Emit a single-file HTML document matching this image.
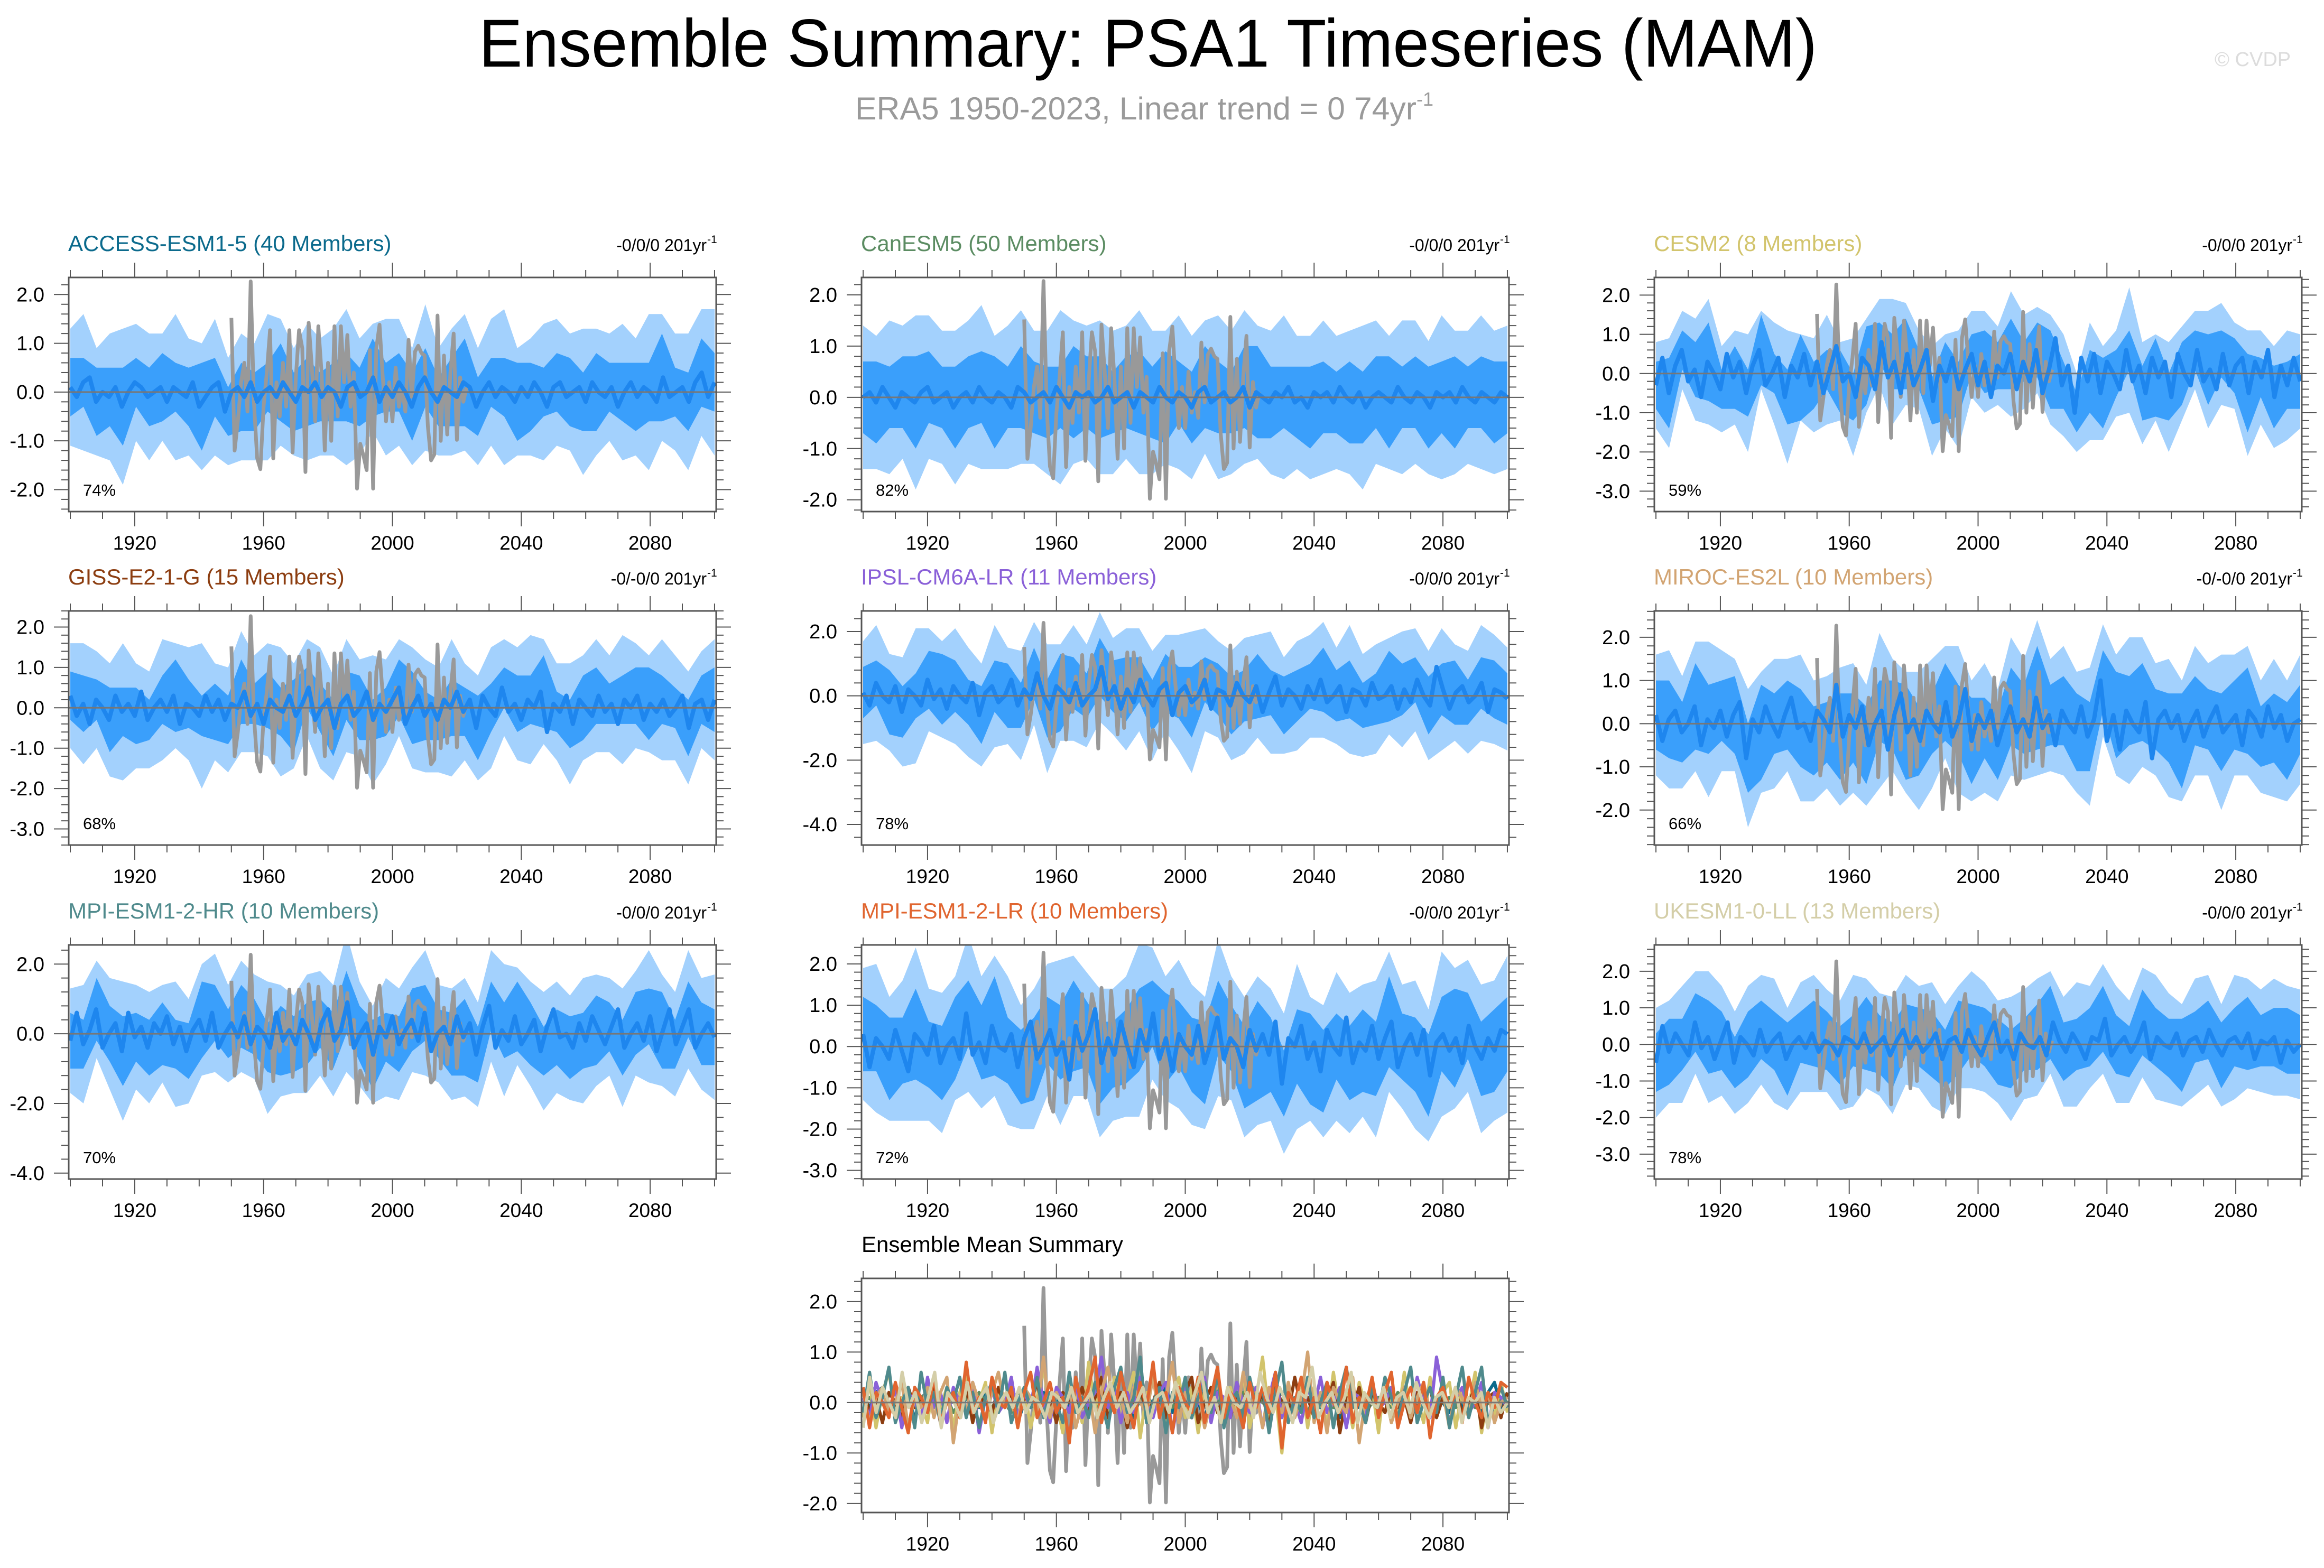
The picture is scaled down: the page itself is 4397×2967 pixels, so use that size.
<!DOCTYPE html>
<html><head><meta charset="utf-8">
<style>
html,body{margin:0;padding:0;background:#fff;}
svg{display:block;}
text{font-family:"Liberation Sans",sans-serif;}
</style></head>
<body>
<svg id="chart" xmlns="http://www.w3.org/2000/svg" width="4397" height="2967" viewBox="0 0 4397 2967">
<rect x="0" y="0" width="4397" height="2967" fill="#fff"/>
<text x="906" y="126" font-size="128" textLength="2532" lengthAdjust="spacingAndGlyphs" fill="#000">Ensemble Summary: PSA1 Timeseries (MAM)</text>
<text x="1618" y="226" font-size="60" fill="#9a9a9a"><tspan textLength="1062" lengthAdjust="spacingAndGlyphs">ERA5 1950-2023, Linear trend = 0 74yr</tspan><tspan font-size="36" dy="-26">-1</tspan></text>
<text x="4190" y="125" font-size="38" fill="#dcdcdc">© CVDP</text>
<g id="panels"></g>
</svg>
<script>
const years0 = 1900, years1 = 2100;
const era5Start = 1950;
const era5 = [1.52,-1.2,-0.6,0.2,0.6,-0.4,2.27,-0.2,-1.35,-1.58,-0.3,0.4,1.27,-1.36,0.2,-0.5,0.6,-0.3,1.27,-1.24,0.3,1.27,0.9,-1.64,1.42,0.5,-0.6,1.35,0.4,-1.2,0.6,-1.0,1.35,-0.5,1.35,0.2,1.17,-0.3,0.4,-1.98,-1.06,-1.3,-1.6,0.86,-1.98,0.9,1.38,0.3,-0.6,0.2,-0.6,0.5,-0.3,0.1,-0.4,1.07,-0.1,0.83,0.95,0.8,0.75,-0.7,-1.4,-1.28,1.57,-1.0,0.75,-0.87,0.4,1.2,-0.98,0.3,-0.2,0.1];

const accessMean = [0.1,-0.1,0.2,0.3,-0.2,0.0,-0.1,0.1,-0.3,0.0,0.2,0.1,-0.1,0.0,0.1,-0.2,0.1,0.0,-0.1,0.2,-0.3,-0.1,0.1,0.2,-0.4,0.0,0.1,-0.1,0.2,-0.2,0.0,0.1,-0.1,0.2,0.0,-0.2,0.1,0.0,0.2,-0.1,0.1,0.0,-0.3,0.1,0.2,-0.1,0.0,0.3,-0.2,0.1,-0.1,0.2,0.0,-0.3,0.1,0.3,0.0,-0.2,0.1,0.0,-0.1,0.2,0.1,-0.3,0.0,0.2,-0.1,0.1,0.0,-0.2,0.1,-0.1,0.2,0.0,-0.3,0.1,0.2,-0.1,0.0,0.1,-0.2,0.2,0.0,-0.1,0.1,-0.3,0.0,0.2,-0.1,0.1,0.0,-0.2,0.3,-0.1,0.0,0.1,-0.2,0.2,0.4,-0.1,0.2];
const accessW1 = [.6,.5,.7,.6,.8,.5,.6,.7,.5,.6,.9,.6,.5,.7,.6,.5,.8,.6,.7,.5,.6,.7,.6,.8,.5,.6,.7,.6,.5,.7,.9,.6,.5,.6,.8,.7,.5,.6,.7,.6,.8,.5,.6,.7,.6,.9,.5,.6,.7,.6];
const accessW2 = [1.2,1.4,1.1,1.3,1.6,1.2,1.3,1.1,1.5,1.2,1.3,1.4,1.1,1.3,1.2,1.5,1.3,1.1,1.4,1.2,1.3,1.6,1.2,1.1,1.4,1.3,1.2,1.5,1.1,1.3,1.4,1.2,1.3,1.6,1.1,1.2,1.4,1.3,1.2,1.5,1.3,1.1,1.4,1.2,1.6,1.3,1.2,1.4,1.3,1.5];

const canMean = [0.0,0.1,-0.1,0.2,0.0,-0.2,0.1,0.0,-0.1,0.1,0.2,-0.1,0.0,0.1,-0.2,0.0,0.1,-0.1,0.2,0.0,-0.1,0.1,0.0,-0.2,0.2,0.1,-0.1,0.0,0.1,-0.1,0.2,0.0,-0.2,0.1,0.0,0.1,-0.1,0.0,0.2,-0.1,0.0,0.1,-0.2,0.1,0.0,-0.1,0.2,0.0,-0.1,0.1,0.0,-0.2,0.1,0.2,-0.1,0.0,0.1,-0.1,0.0,0.2,-0.2,0.1,0.0,-0.1,0.1,0.0,0.2,-0.1,0.0,-0.2,0.1,0.0,0.1,-0.1,0.2,0.0,-0.1,0.1,-0.2,0.0,0.1,0.0,-0.1,0.2,0.0,-0.1,0.1,0.0,-0.2,0.1,0.0,0.1,-0.1,0.2,0.0,-0.1,0.1,0.0,-0.1,0.1,0.0];
const canW1 = [.7,.8,.6,.7,.9,.7,.6,.8,.7,.7,.9,.6,.8,.7,.7,.6,.9,.7,.8,.6,.7,.8,.7,.9,.6,.7,.8,.7,.6,.8,.9,.7,.6,.7,.8,.7,.6,.8,.7,.7,.9,.6,.7,.8,.7,.9,.6,.7,.8,.7];
const canW2 = [1.4,1.3,1.5,1.3,1.7,1.4,1.3,1.5,1.4,1.6,1.3,1.4,1.5,1.3,1.4,1.7,1.4,1.3,1.5,1.4,1.3,1.6,1.4,1.3,1.5,1.4,1.3,1.6,1.4,1.5,1.3,1.4,1.6,1.3,1.4,1.5,1.3,1.4,1.6,1.4,1.3,1.5,1.4,1.3,1.6,1.4,1.3,1.5,1.4,1.4];

const cesmMean = [-0.3,0.4,-0.5,0.2,0.6,-0.2,0.1,-0.6,0.3,0.0,-0.4,0.5,-0.1,0.3,-0.5,0.2,0.6,-0.3,0.0,0.4,-0.6,0.2,-0.1,0.5,-0.3,0.3,-0.5,0.1,0.7,-0.2,0.0,-0.6,0.4,0.2,-0.4,0.8,-0.1,0.3,-0.5,0.5,-0.3,0.1,0.6,-0.7,0.2,-0.2,0.4,-0.4,0.1,0.5,-0.3,0.3,-0.6,0.2,0.0,0.5,-0.4,0.3,-0.2,0.6,-0.5,0.1,0.9,-0.3,0.2,-1.0,0.4,-0.2,0.5,-0.5,0.3,0.0,-0.4,0.6,-0.2,0.2,-0.5,0.4,-0.1,0.3,-0.6,0.5,0.0,-0.3,0.6,-0.2,0.1,-0.4,0.5,-0.3,0.2,0.4,-0.5,0.3,-0.1,0.6,-0.6,0.2,-0.3,0.4,-0.2];
const cesmW1 = [.6,.9,.5,.7,1.0,.5,.8,.6,.9,.5,.7,1.1,.6,.5,.8,.6,1.0,.5,.7,.9,.5,.6,1.0,.7,.5,.8,.6,.9,.5,.7,1.0,.6,.5,.8,.9,.6,.5,.7,1.0,.6,.8,.5,.9,.6,.7,1.0,.5,.8,.6,.7];
const cesmW2 = [1.1,1.4,1.0,1.3,1.6,1.1,1.2,1.5,1.0,1.3,1.7,1.1,1.2,1.4,1.0,1.5,1.2,1.1,1.6,1.3,1.0,1.4,1.2,1.5,1.1,1.3,1.0,1.6,1.2,1.1,1.4,1.3,1.0,1.5,1.2,1.1,1.6,1.3,1.1,1.4,1.2,1.0,1.5,1.3,1.1,1.6,1.2,1.3,1.4,1.2];

const gissMean = [0.3,-0.2,0.1,-0.4,0.2,0.0,-0.3,0.3,-0.1,0.1,-0.2,0.4,-0.3,0.0,0.2,-0.1,0.3,-0.4,0.1,0.0,-0.2,0.3,-0.1,0.2,-0.3,0.1,0.0,0.4,-0.2,0.1,-0.4,0.2,0.0,-0.1,0.3,-0.2,0.1,0.5,-0.3,0.0,0.2,-0.5,0.1,0.3,-0.2,0.0,0.4,-0.3,0.1,-0.1,0.2,0.5,-0.4,0.0,0.3,-0.2,0.1,-0.3,0.2,0.0,0.4,-0.1,0.2,-0.5,0.3,0.0,-0.2,0.5,-0.1,0.1,-0.3,0.2,0.0,0.4,-0.6,0.1,-0.1,0.3,-0.4,0.2,0.0,-0.2,0.3,-0.1,0.1,-0.4,0.2,0.0,0.3,-0.3,0.1,-0.1,0.2,-0.2,0.0,0.3,-0.5,0.1,0.2,-0.3,0.2];
const gissW1 = [.6,.7,.5,.8,.6,.7,.5,.6,.9,.6,.5,.7,.6,.8,.5,.7,.6,.9,.5,.6,.7,.6,.8,.5,.6,.7,.9,.6,.5,.7,.6,.8,.6,.5,.7,.6,.9,.5,.6,.8,.7,.5,.6,.7,.9,.6,.5,.7,.6,.8];
const gissW2 = [1.3,1.5,1.2,1.4,1.7,1.3,1.2,1.5,1.3,1.4,1.8,1.2,1.3,1.5,1.2,1.4,1.6,1.3,1.2,1.5,1.3,1.4,1.2,1.6,1.3,1.2,1.5,1.4,1.3,1.7,1.2,1.3,1.5,1.2,1.4,1.6,1.3,1.2,1.5,1.3,1.4,1.2,1.6,1.3,1.2,1.5,1.3,1.4,1.2,1.5];

const ipslMean = [0.1,-0.3,0.4,0.0,-0.2,0.3,-0.5,0.2,0.0,-0.3,0.5,-0.1,0.2,-0.4,0.3,0.0,-0.2,0.4,-0.6,0.1,0.3,-0.2,0.0,0.5,-0.3,0.2,-0.1,0.7,0.0,-0.4,0.3,0.1,-0.2,0.4,-0.3,0.0,0.2,0.9,-0.1,0.3,-0.4,0.2,-0.2,0.5,0.0,-0.3,0.2,0.4,-0.6,0.1,0.3,-0.2,0.0,0.5,-0.4,0.2,0.1,-0.3,0.4,0.0,-0.2,0.3,-0.5,0.1,0.6,-0.3,0.2,0.0,-0.4,0.3,-0.1,0.5,-0.2,0.0,0.3,-0.5,0.2,0.1,-0.3,0.4,-0.1,0.0,0.3,-0.4,0.2,-0.2,0.5,0.0,-0.3,0.9,0.2,-0.4,0.1,0.3,-0.2,0.0,0.4,-0.5,0.2,0.1,-0.1];
const ipslW1 = [.8,.7,1.0,.8,.7,.9,1.1,.8,.7,.9,.8,1.0,.7,.8,.9,1.2,.8,.7,.9,.8,1.0,.7,.8,.9,.8,1.1,.7,.8,.9,.8,1.0,.7,.9,.8,.7,1.0,.8,.9,.7,.8,1.1,.8,.7,.9,.8,1.0,.7,.8,.9,.8];
const ipslW2 = [1.6,1.8,1.5,1.7,2.1,1.6,1.5,1.8,1.7,1.6,1.9,1.5,1.7,1.6,2.0,1.5,1.8,1.6,1.7,1.5,1.9,1.6,1.7,1.5,1.8,2.2,1.6,1.5,1.7,1.8,1.6,1.9,1.5,1.7,1.6,1.8,1.5,2.0,1.6,1.7,1.5,1.8,1.6,1.7,1.9,1.5,1.6,1.8,1.7,1.6];

const mirocMean = [0.2,-0.4,0.1,0.3,-0.2,0.0,0.4,-0.5,0.1,-0.1,0.3,-0.3,0.2,0.5,-0.8,0.1,-0.2,0.4,0.0,-0.3,0.2,0.6,-0.1,0.0,-0.4,0.3,0.1,-0.2,0.9,-0.3,0.2,-0.1,0.4,-0.5,0.0,0.3,-0.6,0.2,0.7,-0.2,0.1,-0.4,0.3,0.0,-0.2,0.5,-0.3,0.1,0.8,-0.4,0.2,-0.1,0.3,-0.5,0.0,0.4,-0.2,0.1,-0.3,0.6,-0.1,0.2,-0.5,0.3,0.0,-0.2,0.4,-0.3,0.1,1.0,-0.4,0.2,-0.6,0.3,0.0,-0.2,0.5,-0.8,0.1,0.3,-0.1,0.2,-0.4,0.0,0.3,-0.3,0.1,0.4,-0.2,0.0,0.2,-0.5,0.3,0.1,-0.3,0.4,-0.1,0.2,-0.4,0.0,0.1];
const mirocW1 = [.8,.9,.7,1.0,.8,.7,.9,.8,1.1,.7,.8,.9,.8,.7,1.0,.8,.9,.7,.8,1.1,.8,.7,.9,.8,1.0,.7,.8,.9,.8,1.2,.7,.8,.9,.8,.7,1.0,.8,.9,.7,.8,1.1,.8,.7,.9,.8,1.0,.7,.8,.9,.8];
const mirocW2 = [1.4,1.6,1.3,1.5,1.8,1.4,1.3,1.6,1.4,1.5,1.3,1.7,1.4,1.3,1.6,1.5,1.4,1.8,1.3,1.4,1.6,1.5,1.3,1.7,1.4,1.5,1.3,1.6,1.4,1.8,1.3,1.5,1.4,1.6,1.3,1.4,1.7,1.5,1.3,1.6,1.4,1.5,1.3,1.8,1.4,1.5,1.3,1.6,1.4,1.5];

const mpihrMean = [-0.2,0.6,-0.3,0.1,0.7,-0.4,0.0,0.3,-0.5,0.6,-0.1,0.2,-0.4,0.3,0.0,0.5,-0.3,0.2,-0.5,0.1,0.4,-0.2,0.6,-0.4,0.0,0.3,-0.1,0.5,-0.3,0.2,0.0,-0.4,0.6,-0.2,0.1,-0.3,0.4,0.0,-0.5,0.3,0.7,-0.2,0.1,0.9,-0.4,0.0,0.3,-0.6,0.2,-0.1,0.5,-0.3,0.1,0.4,-0.2,0.6,-0.5,0.0,0.2,-0.3,0.5,-0.1,0.3,-0.6,0.2,0.8,-0.4,0.1,-0.2,0.5,-0.3,0.0,0.4,-0.5,0.2,0.7,-0.1,0.0,-0.4,0.3,-0.2,0.5,0.1,-0.3,0.2,0.7,-0.4,0.0,0.3,-0.2,0.5,-0.5,0.1,0.7,-0.3,0.2,0.7,-0.4,0.0,0.3,-0.1];
const mpihrW1 = [.8,.7,.9,.8,1.0,.7,.8,.9,.7,.8,1.1,.8,.7,.9,.8,.7,1.0,.8,.9,.7,.8,.9,.8,1.0,.7,.8,.9,.8,.7,.9,1.1,.8,.7,.8,1.0,.9,.7,.8,.9,.8,1.0,.7,.8,.9,.8,1.1,.7,.8,.9,.8];
const mpihrW2 = [1.5,1.7,1.4,1.6,2.0,1.5,1.6,1.4,1.8,1.5,1.6,1.7,1.4,1.6,1.5,1.9,1.6,1.4,1.7,1.5,1.6,2.0,1.5,1.4,1.7,1.6,1.5,1.8,1.4,1.6,1.7,1.5,1.6,1.9,1.4,1.5,1.7,1.6,1.5,1.8,1.6,1.4,1.7,1.5,1.9,1.6,1.5,1.7,1.6,1.8];

const mpilrMean = [0.3,-0.5,0.2,0.0,-0.3,0.4,-0.1,-0.6,0.3,0.1,-0.2,0.5,-0.4,0.0,0.2,-0.3,0.8,-0.2,0.1,-0.4,0.5,0.0,-0.1,0.3,-0.5,0.2,0.6,-0.3,0.0,0.4,-0.2,0.1,-0.8,0.5,-0.1,0.3,0.9,-0.4,0.2,-0.2,0.6,0.0,-0.5,0.4,-0.1,0.8,-0.3,0.2,-0.6,0.3,0.0,-0.2,0.5,-0.4,0.1,0.7,-0.3,0.2,0.0,-0.5,0.4,-0.1,0.3,-0.2,0.6,-0.9,0.2,0.0,0.5,-0.3,0.1,-0.6,0.4,0.0,-0.2,0.7,-0.4,0.1,-0.1,0.5,-0.3,0.2,0.6,-0.5,0.0,0.3,-0.2,0.4,-0.7,0.1,0.3,-0.1,0.2,-0.4,0.5,0.0,-0.3,0.2,-0.1,0.4,0.3];
const mpilrW1 = [.9,.8,1.0,.8,1.1,.8,.9,1.0,.8,.9,1.2,.8,.9,1.0,.8,.9,1.1,.8,1.0,.8,.9,1.0,.8,1.1,.8,.9,1.0,.9,.8,1.0,1.2,.9,.8,.9,1.1,1.0,.8,.9,1.0,.9,1.1,.8,.9,1.0,.9,1.2,.8,.9,1.0,.9];
const mpilrW2 = [1.6,1.8,1.5,1.7,2.1,1.6,1.7,1.5,1.9,1.6,1.7,1.8,1.5,1.7,1.6,2.0,1.7,1.5,1.8,1.6,1.7,2.1,1.6,1.5,1.8,1.7,1.6,1.9,1.5,1.7,1.8,1.6,1.7,2.0,1.5,1.6,1.8,1.7,1.6,1.9,1.7,1.5,1.8,1.6,2.0,1.7,1.6,1.8,1.7,1.9];

const ukMean = [-0.5,0.5,-0.2,0.3,0.0,-0.3,0.6,-0.1,0.2,-0.4,0.1,0.6,-0.5,0.2,0.0,-0.3,0.4,-0.2,0.1,0.3,-0.4,0.0,0.2,-0.1,0.3,-0.2,0.1,0.0,-0.3,0.2,0.1,-0.1,0.3,-0.2,0.0,0.2,-0.3,0.1,0.4,-0.1,0.2,-0.2,0.0,0.3,-0.4,0.1,0.2,-0.2,0.4,0.0,-0.3,0.2,0.6,-0.2,0.1,-0.4,0.3,0.0,-0.1,0.2,-0.3,0.6,0.1,-0.2,0.3,0.0,-0.4,0.2,0.1,0.7,-0.3,0.0,0.2,-0.2,0.1,0.6,-0.4,0.2,0.0,-0.1,0.3,-0.3,0.1,0.2,-0.2,0.4,0.0,-0.3,0.1,0.2,-0.1,0.3,-0.4,0.1,0.0,0.2,-0.5,0.1,-0.2,0.0];
const ukW1 = [.8,.9,.7,.8,1.0,.8,.7,.9,.8,.8,1.0,.7,.9,.8,.8,.7,1.0,.8,.9,.7,.8,.9,.8,1.0,.7,.8,.9,.8,.7,.9,1.0,.8,.7,.8,.9,.8,.7,.9,.8,.8,1.0,.7,.8,.9,.8,1.0,.7,.8,.9,.8];
const ukW2 = [1.5,1.4,1.6,1.4,1.8,1.5,1.4,1.6,1.5,1.7,1.4,1.5,1.6,1.4,1.5,1.8,1.5,1.4,1.6,1.5,1.4,1.7,1.5,1.4,1.6,1.5,1.4,1.7,1.5,1.6,1.4,1.5,1.7,1.4,1.5,1.6,1.4,1.5,1.7,1.5,1.4,1.6,1.5,1.4,1.7,1.5,1.4,1.6,1.5,1.5];

const modelNames = ["ACCESS-ESM1-5 (40 Members)","CanESM5 (50 Members)","CESM2 (8 Members)","GISS-E2-1-G (15 Members)","IPSL-CM6A-LR (11 Members)","MIROC-ES2L (10 Members)","MPI-ESM1-2-HR (10 Members)","MPI-ESM1-2-LR (10 Members)","UKESM1-0-LL (13 Members)"];
const modelColors = ["#0b6a8c","#5b8c62","#d2c46c","#8c3d10","#8a60d8","#d2a472","#4f8a8c","#e0652f","#d4cea8"];
const trendTexts = ["-0/0/0 201yr","-0/0/0 201yr","-0/0/0 201yr","-0/-0/0 201yr","-0/0/0 201yr","-0/-0/0 201yr","-0/0/0 201yr","-0/0/0 201yr","-0/0/0 201yr"];
const pctLabels = ["74%","82%","59%","68%","78%","66%","70%","72%","78%"];
const yMins = [-2.45,-2.23,-3.52,-3.4,-4.64,-2.81,-4.17,-3.21,-3.68];
const yMaxs = [2.35,2.34,2.45,2.4,2.64,2.61,2.55,2.46,2.72];
const yTickLabels = [[2,1,0,-1,-2],[2,1,0,-1,-2],[2,1,0,-1,-2,-3],[2,1,0,-1,-2,-3],[2,0,-2,-4],[2,1,0,-1,-2],[2,0,-2,-4],[2,1,0,-1,-2,-3],[2,1,0,-1,-2,-3]];
const means = [accessMean,canMean,cesmMean,gissMean,ipslMean,mirocMean,mpihrMean,mpilrMean,ukMean];
const innerW = [accessW1,canW1,cesmW1,gissW1,ipslW1,mirocW1,mpihrW1,mpilrW1,ukW1];
const outerW = [accessW2,canW2,cesmW2,gissW2,ipslW2,mirocW2,mpihrW2,mpilrW2,ukW2];
const xTickLabels = [1920,1960,2000,2040,2080];
const summaryYMin = -2.18, summaryYMax = 2.46;
const summaryYTicks = [2,1,0,-1,-2];

const NS = "http://www.w3.org/2000/svg";
const root = document.getElementById("panels");
const colX = [130,1630,3130], rowY = [525,1156,1788,2419];
const PW = 1225, PH = 443;

function mk(tag, attrs, parent){
  const e = document.createElementNS(NS, tag);
  for (const k in attrs) e.setAttribute(k, attrs[k]);
  parent.appendChild(e);
  return e;
}
function fmt(v){ return v.toFixed(1); }

function drawAxes(g, L, T, ymin, ymax, ticks, step){
  const xs = y => L + (y - 1899.5) / 201 * PW;
  const ys = v => T + (ymax - v) / (ymax - ymin) * PH;
  const z = mk("line", {x1:L, x2:L+PW, y1:ys(0), y2:ys(0), stroke:"#777", "stroke-width":3}, g);
  
  
  const fr = mk("rect", {x:L, y:T, width:PW, height:PH, fill:"none", stroke:"#555", "stroke-width":3}, g);
  
  
  for (let yr = 1900; yr <= 2100; yr += 10){
    const major = (yr - 1920) % 40 === 0;
    const len = major ? 28 : 14;
    const x = xs(yr);
    mk("line", {x1:x, x2:x, y1:T, y2:T-len, stroke:"#555", "stroke-width":2}, g);
    mk("line", {x1:x, x2:x, y1:T+PH, y2:T+PH+len, stroke:"#555", "stroke-width":2}, g);
  }
  xTickLabels.forEach(yr => {
    const t = mk("text", {x:xs(yr), y:T+PH+72, "font-size":37, "text-anchor":"middle", fill:"#000"}, g);
    
    
    t.textContent = yr;
  });
  const minor = step / 5;
  for (let v = Math.ceil(ymin / minor) * minor; v <= ymax + 1e-9; v += minor){
    const r = Math.round(v / step * 1000) / 1000;
    const major = Math.abs(r - Math.round(r)) < 1e-6;
    const len = major ? 28 : 14;
    const y = ys(v);
    mk("line", {x1:L, x2:L-len, y1:y, y2:y, stroke:"#555", "stroke-width":2}, g);
    mk("line", {x1:L+PW, x2:L+PW+len, y1:y, y2:y, stroke:"#555", "stroke-width":2}, g);
  }
  ticks.forEach(v => {
    const t = mk("text", {x:L-46, y:ys(v)+13, "font-size":38, "text-anchor":"end", fill:"#000"}, g);
    
    
    t.textContent = fmt(v);
  });
  return {xs, ys};
}

function linePath(arr, startYear, stepYears, xs, ys){
  return arr.map((v,i) => (i ? "L" : "M") + xs(startYear + i*stepYears).toFixed(1) + "," + ys(v).toFixed(1)).join("");
}
function bandPath(mean, w, xs, ys){
  const n = w.length, nm = mean.length;
  const up = [], dn = [];
  for (let i = 0; i < n; i++){
    const yr = years0 + i * (years1 - years0) / (n - 1);
    const m = mean[Math.round(i * (nm - 1) / (n - 1))];
    up.push(xs(yr).toFixed(1) + "," + ys(m + w[i]).toFixed(1));
    dn.push(xs(yr).toFixed(1) + "," + ys(m - w[i]).toFixed(1));
  }
  return "M" + up.join("L") + "L" + dn.reverse().join("L") + "Z";
}

for (let p = 0; p < 9; p++){
  const L = colX[p % 3], T = rowY[Math.floor(p / 3)];
  const g = mk("g", {}, root);
  
  
  const ymin = yMins[p], ymax = yMaxs[p];
  const tk = yTickLabels[p];
  const step = Math.abs(tk[0] - tk[1]);
  const clip = mk("clipPath", {id:"clip"+p}, g);
  mk("rect", {x:L, y:T, width:PW, height:PH}, clip);
  const xs = y => L + (y - 1899.5) / 201 * PW;
  const ys = v => T + (ymax - v) / (ymax - ymin) * PH;
  const data = mk("g", {"clip-path":"url(#clip"+p+")"}, g);
  const o = mk("path", {d:bandPath(means[p], outerW[p], xs, ys), fill:"#a3d1fd"}, data);
  
  
  const i1 = mk("path", {d:bandPath(means[p], innerW[p], xs, ys), fill:"#3a9ffb"}, data);
  
  
  const ob = mk("path", {d:linePath(era5, era5Start, 1, xs, ys), fill:"none", stroke:"#999", "stroke-width":7, "stroke-linejoin":"round"}, data);
  
  
  const ml = mk("path", {d:linePath(means[p], years0, (years1-years0)/(means[p].length-1), xs, ys), fill:"none", stroke:"#1e86ee", "stroke-width":8, "stroke-linejoin":"round"}, data);
  
  
  drawAxes(g, L, T, ymin, ymax, tk, step);
  const ttl = mk("text", {x:L-1, y:T-50, "font-size":42, fill:modelColors[p]}, g);
  
  
  ttl.textContent = modelNames[p];
  const tr = mk("text", {x:L+PW-18, y:T-50, "font-size":32, "text-anchor":"end", fill:"#000"}, g);
  
  
  tr.textContent = trendTexts[p];
  const sup = mk("text", {x:L+PW-17, y:T-65, "font-size":21, "text-anchor":"start", fill:"#000"}, g);
  
  
  sup.textContent = "-1";
  const pc = mk("text", {x:L+27, y:T+PH-30, "font-size":31, fill:"#000"}, g);
  
  
  pc.textContent = pctLabels[p];
}

{
  const L = colX[1], T = rowY[3];
  const g = mk("g", {}, root);
  
  
  const clip = mk("clipPath", {id:"clipS"}, g);
  mk("rect", {x:L, y:T, width:PW, height:PH}, clip);
  const xs = y => L + (y - 1899.5) / 201 * PW;
  const ys = v => T + (summaryYMax - v) / (summaryYMax - summaryYMin) * PH;
  const data = mk("g", {"clip-path":"url(#clipS)"}, g);
  const ob = mk("path", {d:linePath(era5, era5Start, 1, xs, ys), fill:"none", stroke:"#999", "stroke-width":7, "stroke-linejoin":"round"}, data);
  
  
  for (let p = 0; p < 9; p++){
    const l = mk("path", {d:linePath(means[p], years0, (years1-years0)/(means[p].length-1), xs, ys), fill:"none", stroke:modelColors[p], "stroke-width":6, "stroke-linejoin":"round"}, data);
    
    
  }
  drawAxes(g, L, T, summaryYMin, summaryYMax, summaryYTicks, 1);
  const ttl = mk("text", {x:L, y:T-50, "font-size":42, fill:"#000"}, g);
  
  
  ttl.textContent = "Ensemble Mean Summary";
}
</script>
</body></html>
